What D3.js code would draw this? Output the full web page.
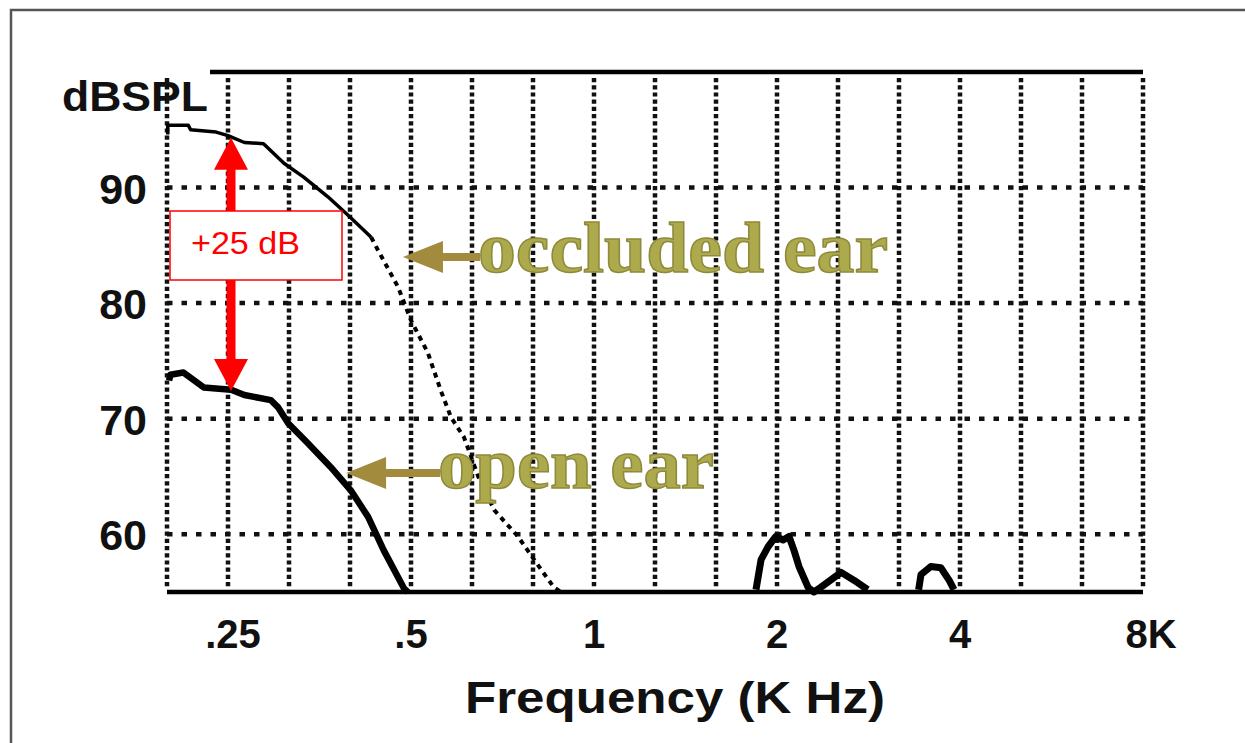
<!DOCTYPE html>
<html>
<head>
<meta charset="utf-8">
<script src="https://cdn.jsdelivr.net/npm/d3@7"></script>
<style>
  html, body { margin: 0; padding: 0; background: #fff; }
  svg { display: block; }
</style>
</head>
<body>
<svg id="chart" width="1245" height="743"></svg>
<script>
// ---------- data ----------
const xTickValues = [0.25, 0.5, 1, 2, 4, 8];
const xTickLabels = [".25", ".5", "1", "2", "4", "8K"];
const yTickValues = [60, 70, 80, 90];
const yTickLabels = ["60", "70", "80", "90"];
const yUnitLabel = "dBSPL";
const xTitle = "Frequency (K Hz)";

// occluded ear (freq kHz, dB SPL)
const occludedFreq = [0.199, 0.199, 0.215, 0.217, 0.239, 0.25, 0.266, 0.286, 0.309, 0.333, 0.365, 0.394, 0.430,
                      0.441, 0.476, 0.50, 0.533, 0.560, 0.582, 0.611, 0.645, 0.685, 0.750, 0.797, 0.859, 0.882];
const occludedDb   = [94.6, 95.4, 95.4, 95.0, 94.8, 94.5, 93.9, 93.8, 92.1, 90.9, 89.2, 87.6, 85.7,
                      84.6, 81.4, 78.5, 75.7, 72.4, 70.1, 68.4, 65.0, 62.1, 59.8, 57.8, 55.4, 55.0];
const occludedSolidUntil = 0.43; // beyond this the trace is dotted

// open ear
const openFreq = [0.200, 0.201, 0.211, 0.228, 0.253, 0.266, 0.294, 0.302, 0.314, 0.338, 0.369, 0.398, 0.425, 0.451, 0.487, 0.494];
const openDb   = [73.3, 73.8, 74.0, 72.7, 72.5, 72.05, 71.6, 71.0, 69.6, 67.9, 65.8, 63.8, 61.5, 58.6, 55.3, 55.0];

// open ear high-frequency bumps
const bumpFreq = [1.847, 1.883, 1.933, 1.99, 2.047, 2.093, 2.133, 2.174, 2.25, 2.30, 2.36, 2.55, 2.68, 2.82,
                  3.42, 3.45, 3.58, 3.72, 3.84, 3.91];
const bumpDb   = [55.2, 57.8, 58.9, 59.8, 59.5, 59.8, 58.6, 57.2, 55.4, 55.0, 55.4, 56.7, 56.0, 55.2,
                  55.2, 56.5, 57.2, 57.1, 56.0, 55.2];
const bumpGroups = [[0, 14], [14, 20]];

// annotations
const diffLabel = "+25 dB";
const diffFreq = 0.25;
const diffTopDb = 94.3;
const diffBottomDb = 72.4;
const occludedLabel = "occluded ear";
const occludedLabelAt = [0.485, 84.0];
const openLabel = "open ear";
const openLabelAt = [0.391, 65.3];

// ---------- scales ----------
const xMin = 0.25 * Math.pow(2, -1/3);
const x = d3.scaleLog().base(2).domain([xMin, 8]).range([167, 1143]);
const y = d3.scaleLinear().domain([55, 100]).range([592, 72]);

const svg = d3.select("#chart");
const sans = "'Liberation Sans', Arial, Helvetica, sans-serif";
const serif = "'Liberation Serif', 'Times New Roman', serif";

// outer frame
svg.append("path").attr("d", "M11,743V10H1245").attr("fill", "none")
  .attr("stroke", "#555").attr("stroke-width", 2.5);

// vertical dotted grid lines (1/3 octave)
const vGrid = d3.range(0, 16 + 1).map(i => xMin * Math.pow(2, i / 3));
svg.append("g").selectAll("line").data(vGrid).join("line")
  .attr("x1", d => x(d)).attr("x2", d => x(d))
  .attr("y1", y(100) + 6).attr("y2", y(55) - 4)
  .attr("stroke", "#111").attr("stroke-width", 4.5).attr("stroke-dasharray", "4.2,3");

// horizontal dotted grid lines
svg.append("g").selectAll("line").data(yTickValues).join("line")
  .attr("x1", x.range()[0]).attr("x2", x.range()[1])
  .attr("y1", d => y(d)).attr("y2", d => y(d))
  .attr("stroke", "#111").attr("stroke-width", 4.5).attr("stroke-dasharray", "5.5,9");

// solid top & bottom lines
svg.append("line").attr("x1", 210).attr("x2", x.range()[1]).attr("y1", y(100)).attr("y2", y(100))
  .attr("stroke", "#000").attr("stroke-width", 4.5);
svg.append("line").attr("x1", x.range()[0]).attr("x2", x.range()[1]).attr("y1", y(55)).attr("y2", y(55))
  .attr("stroke", "#000").attr("stroke-width", 4.5);

// y tick labels
svg.append("g").selectAll("text").data(yTickValues).join("text")
  .attr("x", 147).attr("y", d => y(d) + 16)
  .attr("text-anchor", "end")
  .attr("font-family", sans).attr("font-weight", "bold").attr("font-size", 43)
  .attr("fill", "#111")
  .text((d, i) => yTickLabels[i]);
svg.append("text").attr("x", 62).attr("y", 111)
  .attr("font-family", sans).attr("font-weight", "bold").attr("font-size", 42)
  .attr("textLength", 146).attr("lengthAdjust", "spacingAndGlyphs")
  .attr("fill", "#111").text(yUnitLabel);

// x tick labels
svg.append("g").selectAll("text").data(xTickValues).join("text")
  .attr("x", (d, i) => x(d) + (i === 0 ? 5 : (i === xTickLabels.length - 1 ? 8 : 0)))
  .attr("y", 648)
  .attr("text-anchor", "middle")
  .attr("font-family", sans).attr("font-weight", "bold").attr("font-size", 40)
  .attr("fill", "#111")
  .text((d, i) => xTickLabels[i]);

svg.append("text").attr("x", 675).attr("y", 713).attr("text-anchor", "middle")
  .attr("font-family", sans).attr("font-weight", "bold").attr("font-size", 45)
  .attr("textLength", 420).attr("lengthAdjust", "spacingAndGlyphs")
  .attr("fill", "#111").text(xTitle);

// curves
const line = d3.line().x(d => x(d[0])).y(d => y(d[1]));
const occ = occludedFreq.map((f, i) => [f, occludedDb[i]]);
svg.append("path").datum(occ.filter(d => d[0] <= occludedSolidUntil))
  .attr("d", line).attr("fill", "none").attr("stroke", "#000").attr("stroke-width", 3.5)
  .attr("stroke-linejoin", "round");
svg.append("path").datum(occ.filter(d => d[0] >= occludedSolidUntil))
  .attr("d", line).attr("fill", "none").attr("stroke", "#000").attr("stroke-width", 4)
  .attr("stroke-dasharray", "5,5");

const open = openFreq.map((f, i) => [f, openDb[i]]);
svg.append("path").datum(open)
  .attr("d", line).attr("fill", "none").attr("stroke", "#000").attr("stroke-width", 6.5)
  .attr("stroke-linejoin", "round");

bumpGroups.forEach(([a, b]) => {
  const pts = bumpFreq.slice(a, b).map((f, i) => [f, bumpDb[a + i]]);
  svg.append("path").datum(pts)
    .attr("d", line).attr("fill", "none").attr("stroke", "#000").attr("stroke-width", 7)
    .attr("stroke-linejoin", "round");
});

// red double arrow
const ax = x(diffFreq) + 3, ayTop = y(diffTopDb), ayBot = y(diffBottomDb);
const hw = 17, hl = 32, sw = 4.5;
svg.append("path")
  .attr("d", `M${ax},${ayTop} L${ax + hw},${ayTop + hl} L${ax + sw},${ayTop + hl} L${ax + sw},${ayBot - hl}
              L${ax + hw},${ayBot - hl} L${ax},${ayBot} L${ax - hw},${ayBot - hl} L${ax - sw},${ayBot - hl}
              L${ax - sw},${ayTop + hl} L${ax - hw},${ayTop + hl} Z`)
  .attr("fill", "#ff0000");
svg.append("rect").attr("x", 170).attr("y", 211).attr("width", 172).attr("height", 69)
  .attr("fill", "#fff").attr("stroke", "#ff0000").attr("stroke-width", 1.5);
svg.append("text").attr("x", 191).attr("y", 254)
  .attr("font-family", sans).attr("font-size", 31)
  .attr("textLength", 109).attr("lengthAdjust", "spacingAndGlyphs")
  .attr("fill", "#ff0000").text(diffLabel);

// olive labels with arrows
function oliveLabel(at, shaftEnd, text, textWidth) {
  const tx = x(at[0]), ty = y(at[1]);
  svg.append("path")
    .attr("d", `M${tx},${ty} L${tx + 40},${ty - 16} L${tx + 40},${ty - 4} L${shaftEnd},${ty - 4}
                L${shaftEnd},${ty + 4} L${tx + 40},${ty + 4} L${tx + 40},${ty + 16} Z`)
    .attr("fill", "#a28b3c");
  svg.append("text").attr("x", shaftEnd - 2).attr("y", ty + 15)
    .attr("font-family", serif).attr("font-weight", "bold").attr("font-size", 72)
    .attr("textLength", textWidth).attr("lengthAdjust", "spacingAndGlyphs")
    .attr("fill", "#acaa4c").attr("stroke", "#8f8a3a").attr("stroke-width", 1.5)
    .text(text);
}
oliveLabel(occludedLabelAt, 480, occludedLabel, 410);
oliveLabel(openLabelAt, 440, openLabel, 276);
</script>
</body>
</html>
